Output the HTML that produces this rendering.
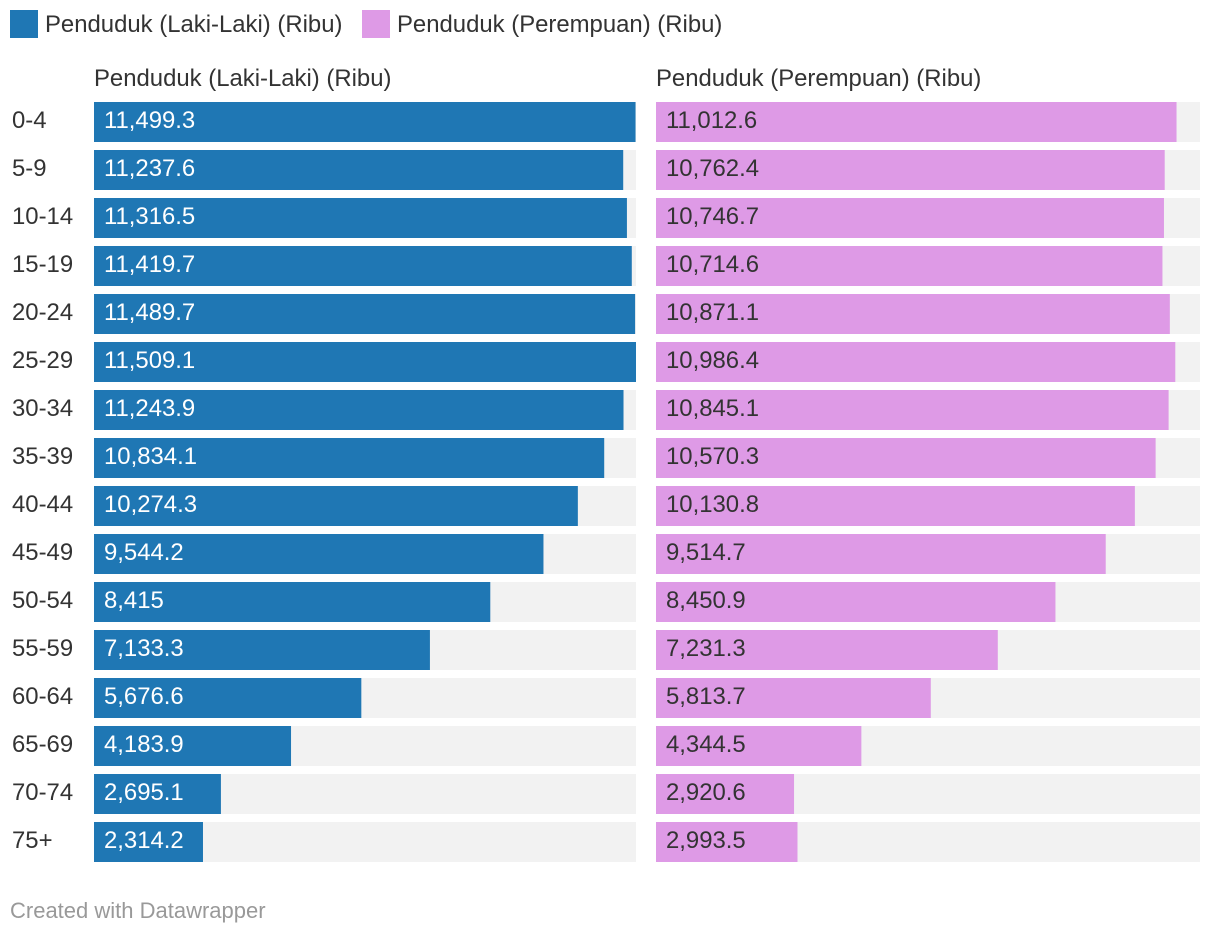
<!DOCTYPE html>
<html><head><meta charset="utf-8">
<style>
html,body{margin:0;padding:0;background:#fff;}
body{width:1220px;height:936px;position:relative;overflow:hidden;font-family:"Liberation Sans",Arial,sans-serif;color:#333;}
svg text{font-family:"Liberation Sans",Arial,sans-serif;}
</style></head>
<body>
<svg id="chart" width="1220" height="936">
  <g>
    <rect x="10" y="10" width="28" height="28" fill="#1f77b4"/>
    <text x="45" y="32" font-size="23.9" fill="#333">Penduduk (Laki-Laki) (Ribu)</text>
    <rect x="362" y="10" width="28" height="28" fill="#de9ae6"/>
    <text x="397" y="32" font-size="23.9" fill="#333">Penduduk (Perempuan) (Ribu)</text>
  </g>
  <text x="94" y="86" font-size="23.9" fill="#333">Penduduk (Laki-Laki) (Ribu)</text>
  <text x="656" y="86" font-size="23.9" fill="#333">Penduduk (Perempuan) (Ribu)</text>
  <g id="rows"></g>
  <text x="10" y="918" font-size="22" fill="#999">Created with Datawrapper</text>
</svg>
<script>
const categories = ["0-4","5-9","10-14","15-19","20-24","25-29","30-34","35-39","40-44","45-49","50-54","55-59","60-64","65-69","70-74","75+"];
const maleValues = [11499.3,11237.6,11316.5,11419.7,11489.7,11509.1,11243.9,10834.1,10274.3,9544.2,8415,7133.3,5676.6,4183.9,2695.1,2314.2];
const femaleValues = [11012.6,10762.4,10746.7,10714.6,10871.1,10986.4,10845.1,10570.3,10130.8,9514.7,8450.9,7231.3,5813.7,4344.5,2920.6,2993.5];
const maleLabels = ["11,499.3","11,237.6","11,316.5","11,419.7","11,489.7","11,509.1","11,243.9","10,834.1","10,274.3","9,544.2","8,415","7,133.3","5,676.6","4,183.9","2,695.1","2,314.2"];
const femaleLabels = ["11,012.6","10,762.4","10,746.7","10,714.6","10,871.1","10,986.4","10,845.1","10,570.3","10,130.8","9,514.7","8,450.9","7,231.3","5,813.7","4,344.5","2,920.6","2,993.5"];

const NS="http://www.w3.org/2000/svg";
const g=document.getElementById('rows');
const maxV=Math.max(...maleValues,...femaleValues);
const panels=[{x0:94,w:542,vals:maleValues,labs:maleLabels,col:"#1f77b4",tc:"#fff",key:"male"},
              {x0:656,w:544,vals:femaleValues,labs:femaleLabels,col:"#de9ae6",tc:"#333",key:"female"}];
function yPos(i){return 102+i*48;}
function xScale(v,w){return v/maxV*w;}
function mk(tag,attrs){const e=document.createElementNS(NS,tag);for(const k in attrs)e.setAttribute(k,attrs[k]);return e;}
categories.forEach((c,i)=>{
  const y=yPos(i);
  const t=mk('text',{x:12,y:y+26,'font-size':23.9,fill:'#333'});
  
  
  t.textContent=c;g.appendChild(t);
  panels.forEach(p=>{
    const bg=mk('rect',{x:p.x0,y:y,width:p.w,height:40,fill:'#f2f2f2'});
    
    
    g.appendChild(bg);
    const b=mk('rect',{x:p.x0,y:y,width:xScale(p.vals[i],p.w),height:40,fill:p.col});
    
    
    g.appendChild(b);
    const l=mk('text',{x:p.x0+10,y:y+26,'font-size':23.9,fill:p.tc});
    
    
    l.textContent=p.labs[i];g.appendChild(l);
  });
});
</script>
</body></html>
